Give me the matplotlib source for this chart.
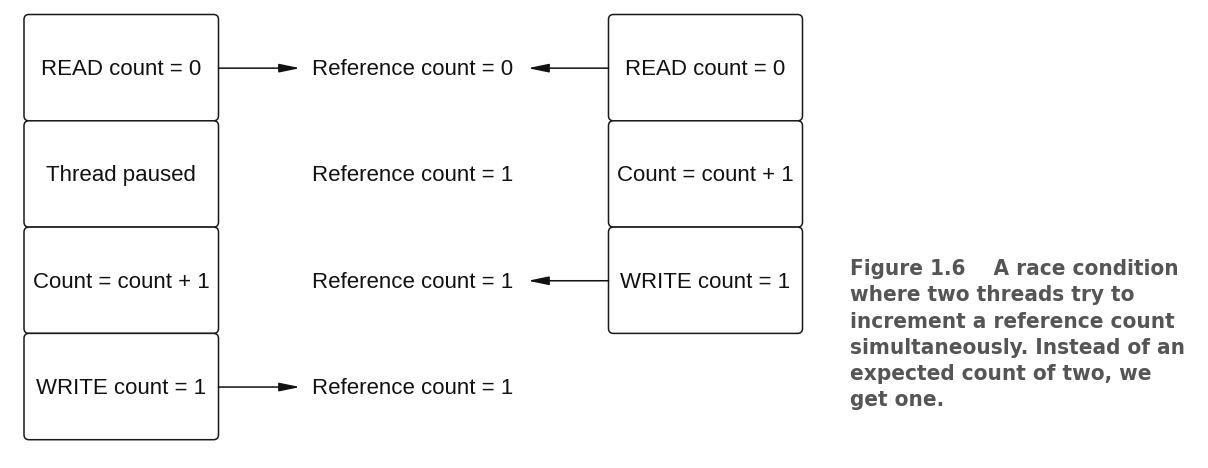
import matplotlib
matplotlib.use("Agg")
import matplotlib.pyplot as plt
from matplotlib.patches import FancyBboxPatch
from matplotlib import font_manager

left_labels = ["READ count = 0", "Thread paused", "Count = count + 1", "WRITE count = 1"]
right_labels = ["READ count = 0", "Count = count + 1", "WRITE count = 1"]
middle_labels = ["Reference count = 0", "Reference count = 1", "Reference count = 1", "Reference count = 1"]
left_arrow_rows = [0, 3]
right_arrow_rows = [0, 2]
caption = ["Figure 1.6    A race condition",
           "where two threads try to",
           "increment a reference count",
           "simultaneously. Instead of an",
           "expected count of two, we",
           "get one."]

W, H = 1208, 468
fig = plt.figure(figsize=(W / 100, H / 100), dpi=100)
ax = fig.add_axes([0, 0, 1, 1])
ax.set_xlim(0, W)
ax.set_ylim(H, 0)
ax.axis("off")

box_top = 14.5
box_h = 106.3
lx0, lx1 = 24, 218.5
rx0, rx1 = 608.5, 802.5
mid_x = 312

font = ["Liberation Sans", "DejaVu Sans"]
fs = 16

def draw_box(x0, x1, row, label):
    y0 = box_top + row * box_h
    p = FancyBboxPatch((x0 + 4, y0 + 4), (x1 - x0) - 8, box_h - 8,
                       boxstyle="round,pad=4,rounding_size=5",
                       linewidth=1.1, edgecolor="#1a1a1a", facecolor="white")
    ax.add_patch(p)
    ax.text((x0 + x1) / 2, y0 + box_h / 2 + 2, label, ha="center", va="center",
            fontsize=fs, family=font, color="#111111")

for i, lab in enumerate(left_labels):
    draw_box(lx0, lx1, i, lab)
for i, lab in enumerate(right_labels):
    draw_box(rx0, rx1, i, lab)
for i, lab in enumerate(middle_labels):
    yc = box_top + i * box_h + box_h / 2 + 2
    ax.text(mid_x, yc, lab, ha="left", va="center", fontsize=fs, family=font, color="#111111")

astyle = "-|>,head_length=1.25,head_width=0.26"
for r in left_arrow_rows:
    yc = box_top + r * box_h + box_h / 2 + 0.5
    ax.annotate("", xy=(300, yc), xytext=(lx1, yc),
                arrowprops=dict(arrowstyle=astyle, color="#111111", lw=1.1, shrinkA=0, shrinkB=0))
for r in right_arrow_rows:
    yc = box_top + r * box_h + box_h / 2 + 0.5
    ax.annotate("", xy=(528, yc), xytext=(rx0, yc),
                arrowprops=dict(arrowstyle=astyle, color="#111111", lw=1.1, shrinkA=0, shrinkB=0))

cond = [f for f in font_manager.fontManager.ttflist if "Condensed" in f.fname or "Narrow" in f.fname]
if cond:
    cap_kw = dict(family=[cond[0].name, "DejaVu Sans"], stretch="condensed", fontsize=16.1)
else:
    cap_kw = dict(family=["DejaVu Sans"], fontsize=14.4)
for i, line in enumerate(caption):
    ax.text(850, 269 + i * 26.3, line, ha="left", va="center",
            weight="bold", color="#555555", **cap_kw)

fig.savefig("out.png", dpi=100, facecolor="white")
